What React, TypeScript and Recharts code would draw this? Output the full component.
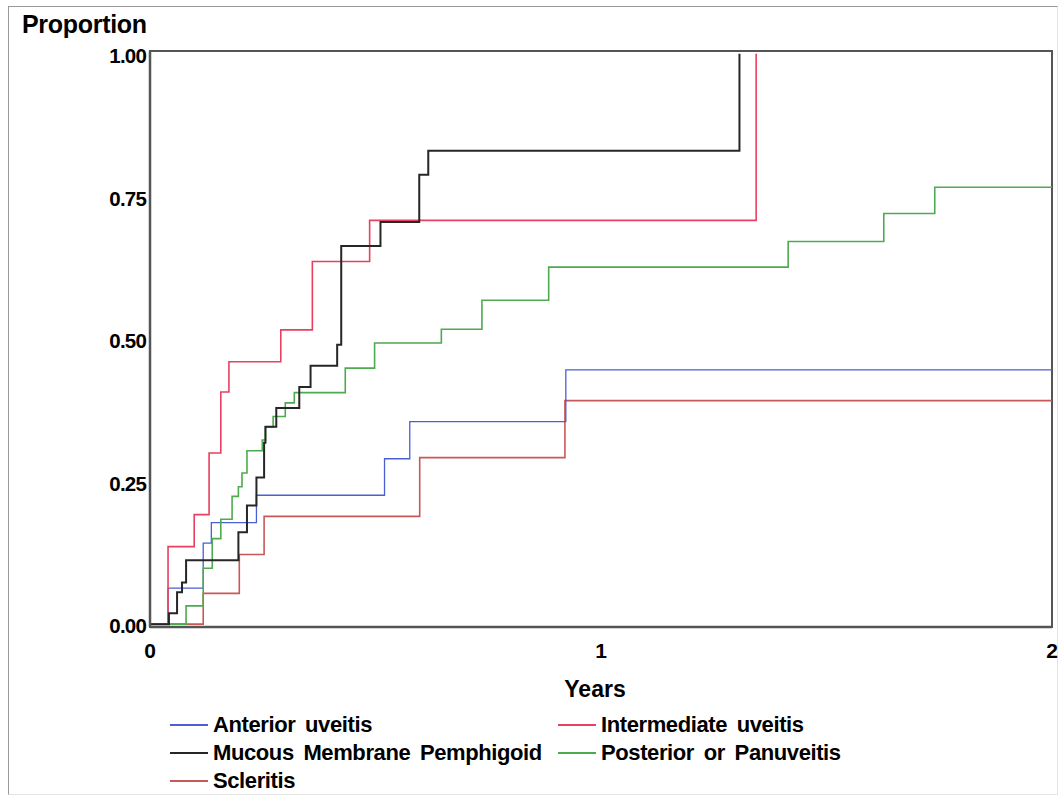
import React from "react";
import { LineChart, Line, XAxis, YAxis, Legend, ReferenceArea } from "recharts";

// ---- Data ----
const anteriorTimes = [0, 0.04, 0.118, 0.136, 0.236, 0.52, 0.576, 0.922, 2.0];
const anteriorValues = [0, 0.063, 0.142, 0.178, 0.226, 0.29, 0.355, 0.446, 0.446];

const intermediateTimes = [0, 0.04, 0.098, 0.131, 0.157, 0.175, 0.29, 0.36, 0.487, 1.344];
const intermediateValues = [0, 0.136, 0.192, 0.3, 0.407, 0.46, 0.516, 0.636, 0.708, 1.0];

const mmpTimes = [0, 0.042, 0.06, 0.071, 0.08, 0.196, 0.215, 0.236, 0.253, 0.256, 0.28, 0.331, 0.356, 0.415, 0.424, 0.511, 0.597, 0.617, 1.307];
const mmpValues = [0, 0.019, 0.056, 0.073, 0.112, 0.161, 0.208, 0.257, 0.318, 0.346, 0.379, 0.416, 0.453, 0.49, 0.663, 0.705, 0.788, 0.83, 1.0];

const posteriorTimes = [0, 0.08, 0.118, 0.138, 0.157, 0.182, 0.196, 0.204, 0.215, 0.249, 0.256, 0.273, 0.3, 0.32, 0.433, 0.498, 0.646, 0.736, 0.884, 1.415, 1.627, 1.74, 2.0];
const posteriorValues = [0, 0.032, 0.098, 0.15, 0.184, 0.224, 0.241, 0.265, 0.304, 0.323, 0.346, 0.364, 0.388, 0.406, 0.449, 0.493, 0.517, 0.568, 0.626, 0.671, 0.72, 0.766, 0.766];

const scleritisTimes = [0, 0.118, 0.198, 0.253, 0.598, 0.92, 2.0];
const scleritisValues = [0, 0.054, 0.122, 0.189, 0.292, 0.392, 0.392];

const xTicks = [0, 1, 2];
const yTicks = [0, 0.25, 0.5, 0.75, 1];

const toPoints = (times: number[], values: number[]) =>
  times.map((t, i) => ({ t, p: values[i] }));

const series = [
  { name: "Anterior uveitis", data: toPoints(anteriorTimes, anteriorValues), color: "#4a5fd4", width: 1.3 },
  { name: "Intermediate uveitis", data: toPoints(intermediateTimes, intermediateValues), color: "#e8405f", width: 1.6 },
  { name: "Mucous Membrane Pemphigoid", data: toPoints(mmpTimes, mmpValues), color: "#262626", width: 2 },
  { name: "Posterior or Panuveitis", data: toPoints(posteriorTimes, posteriorValues), color: "#4eaa4e", width: 1.6 },
  { name: "Scleritis", data: toPoints(scleritisTimes, scleritisValues), color: "#c85858", width: 1.6 },
];

const FONT = "'Liberation Sans', Arial, Helvetica, sans-serif";

const renderLegend = () => (
  <div
    style={{
      display: "grid",
      gridTemplateColumns: "388px 400px",
      rowGap: 0,
      fontFamily: FONT,
      fontWeight: 700,
      fontSize: 22,
      color: "#000",
      wordSpacing: 4,
    }}
  >
    {series.map((s) => (
      <div key={s.name} style={{ display: "flex", alignItems: "center", height: 28 }}>
        <div style={{ width: 38, height: 2, background: s.color, marginRight: 5, flex: "none" }} />
        <span style={{ letterSpacing: -0.4, whiteSpace: "nowrap" }}>{s.name}</span>
      </div>
    ))}
  </div>
);

const fmtY = (v: number) => v.toFixed(2);

export default function App() {
  return (
    <div style={{ position: "absolute", left: 0, top: 0, width: 1060, height: 796, background: "#fff" }}>
      <div
        style={{
          position: "absolute",
          left: 8,
          top: 6,
          width: 1048,
          height: 787,
          borderLeft: "1px solid #999",
          borderTop: "1px solid #999",
          borderRight: "1px solid #e4e4e4",
          borderBottom: "1px solid #e4e4e4",
        }}
      />
      <div style={{ position: "absolute", left: 0, top: 0 }}>
        <LineChart
          width={1060}
          height={796}
          margin={{ top: 51, right: 8, left: 10, bottom: 94 }}
        >
          <XAxis
            dataKey="t"
            type="number"
            domain={[0, 2]}
            ticks={xTicks}
            allowDuplicatedCategory={false}
            tickLine={false}
            tickSize={0}
            tickMargin={16}
            height={75}
            axisLine={{ stroke: "#555", strokeWidth: 2.5 }}
            tick={{ fill: "#000", fontSize: 21, fontWeight: 700, fontFamily: FONT }}
            label={{
              value: "Years",
              position: "insideBottom",
              offset: 5,
              fill: "#000",
              fontSize: 23,
              fontWeight: 700,
              fontFamily: FONT,
              dx: -6,
            }}
          />
          <YAxis
            type="number"
            domain={[-0.005, 1.005]}
            ticks={yTicks}
            tickFormatter={fmtY}
            tickLine={false}
            tickSize={0}
            tickMargin={4}
            width={140}
            axisLine={{ stroke: "#555", strokeWidth: 2.5 }}
            tick={{ fill: "#000", fontSize: 20.5, fontWeight: 700, fontFamily: FONT, letterSpacing: -0.8, dy: 2 }}
            label={{
              content: () => (
                <text
                  x={22}
                  y={33}
                  fill="#000"
                  fontSize={25}
                  fontWeight={700}
                  fontFamily={FONT}
                  letterSpacing={-0.3}
                >
                  Proportion
                </text>
              ),
            }}
          />
          <ReferenceArea
            x1={0}
            x2={2}
            y1={-0.005}
            y2={1.005}
            fill="none"
            fillOpacity={0}
            stroke="#555"
            strokeWidth={2}
            ifOverflow="visible"
          />
          <Legend
            layout="vertical"
            align="center"
            verticalAlign="middle"
            content={renderLegend}
            wrapperStyle={{ position: "absolute", left: 170, top: 711, width: 800 }}
          />
          {[4, 0, 3, 1, 2].map((i) => {
            const s = series[i];
            return (
              <Line
                key={s.name}
                data={s.data}
                dataKey="p"
                name={s.name}
                type="stepAfter"
                stroke={s.color}
                strokeWidth={s.width}
                dot={false}
                activeDot={false}
                isAnimationActive={false}
                legendType="line"
              />
            );
          })}
        </LineChart>
      </div>
    </div>
  );
}
